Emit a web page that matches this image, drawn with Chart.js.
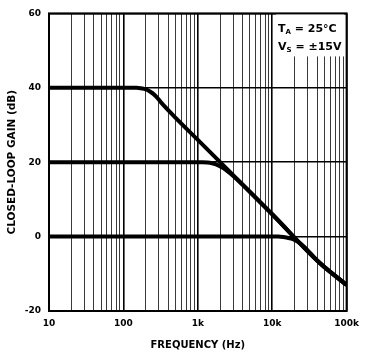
<!DOCTYPE html>
<html><head><meta charset="utf-8">
<script src="https://cdn.jsdelivr.net/npm/chart.js@4"></script>
<style>html,body{margin:0;padding:0;background:#fff}#c{display:block}</style>
</head><body>
<canvas id="c" width="366" height="353"></canvas>
<script>
// Tick values / labels
const freqTicks = [10,20,30,40,50,60,70,80,90,100,200,300,400,500,600,700,800,900,
  1000,2000,3000,4000,5000,6000,7000,8000,9000,10000,20000,30000,40000,50000,60000,70000,80000,90000,100000];
const freqLabels = {10:'10',100:'100',1000:'1k',10000:'10k',100000:'100k'};
const gainTicks = [-20, 0, 20, 40, 60];

// Curves: closed-loop gain (dB) vs frequency (Hz)
const gain40Freq = [10, 150, 170, 190, 210, 230, 255, 280, 320, 500, 1000, 10000, 42500, 100000];
const gain40dB   = [40, 40, 39.9, 39.7, 39.4, 38.95, 38.3, 37.5, 36.1, 32, 26, 6, -6.9, -13];
const gain20Freq = [10, 1150, 1350, 1550, 1750, 1950, 2200, 2500, 3000, 10000, 42500, 100000];
const gain20dB   = [20, 20, 19.9, 19.7, 19.4, 19.0, 18.4, 17.6, 16.3, 6, -6.9, -13];
const gain0Freq  = [10, 12000, 14000, 16000, 18000, 20000, 23000, 27000, 32000, 42500, 100000];
const gain0dB    = [0, 0, -0.1, -0.3, -0.55, -0.9, -1.6, -2.8, -4.3, -6.9, -13];

const toPts = (xs, ys) => xs.map((x, i) => ({x, y: ys[i]}));
const lineStyle = {borderColor:'#000', borderWidth:4, pointRadius:0, fill:false,
  cubicInterpolationMode:'monotone', borderCapStyle:'butt', borderJoinStyle:'round'};

const frame = {
  id:'frame',
  afterDatasetsDraw(chart){
    const {ctx, chartArea:a} = chart;
    ctx.save();
    // annotation box
    ctx.fillStyle = '#fff';
    ctx.fillRect(276, a.top, 68, 43);
    ctx.fillStyle = '#000';
    ctx.textBaseline = 'alphabetic';
    ctx.textAlign = 'left';
    const big = 'bold 11px "DejaVu Sans"', small = 'bold 7px "DejaVu Sans"';
    const drawSub = (main, sub, rest, x, y) => {
      ctx.font = big; ctx.fillText(main, x, y); x += ctx.measureText(main).width;
      ctx.font = small; ctx.fillText(sub, x, y + 2); x += ctx.measureText(sub).width;
      ctx.font = big; ctx.fillText(rest, x, y);
    };
    drawSub('T', 'A', ' = 25\u00B0C', 278, 32);
    drawSub('V', 'S', ' = \u00B115V', 278, 50);
    // border
    ctx.strokeStyle = '#000';
    ctx.lineWidth = 2;
    ctx.strokeRect(a.left, a.top, a.right - a.left, a.bottom - a.top);
    ctx.restore();
  }
};

new Chart(document.getElementById('c'), {
  type: 'scatter',
  data: { datasets: [
    Object.assign({data: toPts(gain40Freq, gain40dB), showLine:true}, lineStyle),
    Object.assign({data: toPts(gain20Freq, gain20dB), showLine:true}, lineStyle),
    Object.assign({data: toPts(gain0Freq, gain0dB), showLine:true}, lineStyle)
  ]},
  options: {
    responsive:false, animation:false, devicePixelRatio:1,
    layout:{padding:{top:12, right:16, left:0, bottom:0}},
    plugins:{legend:{display:false}, tooltip:{enabled:false}},
    scales:{
      x:{
        type:'logarithmic', min:10, max:100000,
        afterBuildTicks: s => { s.ticks = freqTicks.map(v => ({value:v})); },
        afterFit: s => { s.height = 42; },
        grid:{drawTicks:false,
          color: c => (c.tick && freqLabels[c.tick.value]) ? '#000' : '#3a3a3a',
          lineWidth: c => (c.tick && freqLabels[c.tick.value]) ? 1.6 : 1},
        border:{display:false},
        ticks:{autoSkip:false, maxRotation:0, padding:7, color:'#000',
          font:{family:'"DejaVu Sans"', weight:'bold', size:9},
          callback: v => freqLabels[v] || ''},
        title:{display:true, text:'FREQUENCY (Hz)', color:'#000',
          font:{family:'"DejaVu Sans"', weight:'bold', size:10}, padding:{top:0,bottom:2}}
      },
      y:{
        min:-20, max:60,
        afterBuildTicks: s => { s.ticks = gainTicks.map(v => ({value:v})); },
        afterFit: s => { s.width = 49; },
        grid:{drawTicks:false, color:'#000', lineWidth:1.5},
        border:{display:false},
        ticks:{padding:8, color:'#000',
          font:{family:'"DejaVu Sans"', weight:'bold', size:9}},
        title:{display:true, text:'CLOSED-LOOP GAIN (dB)', color:'#000',
          font:{family:'"DejaVu Sans"', weight:'bold', size:10.5}, padding:{top:6,bottom:0}}
      }
    }
  },
  plugins:[frame]
});
</script>
</body></html>
